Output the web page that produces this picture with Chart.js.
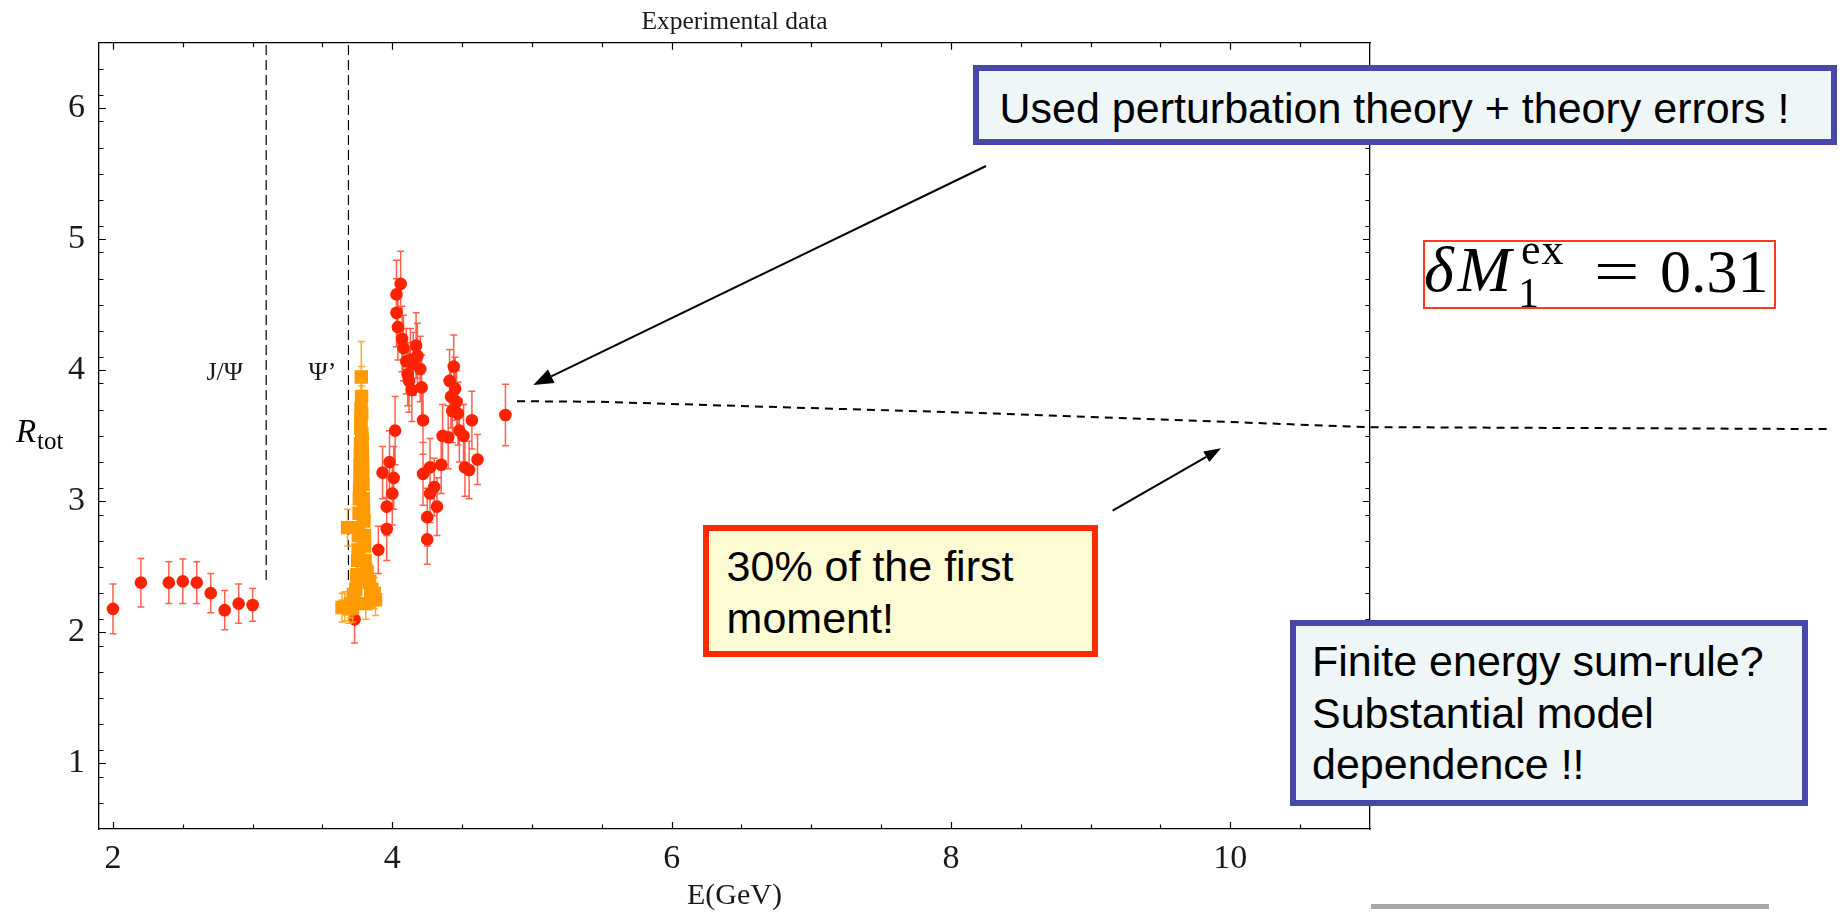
<!DOCTYPE html>
<html>
<head>
<meta charset="utf-8">
<title>R ratio – experimental data</title>
<script src="https://cdn.jsdelivr.net/npm/chart.js@4.4.1/dist/chart.umd.min.js"></script>
<style>
  body { margin: 0; background: #fff; }
  #wrap { position: relative; width: 1840px; height: 913px; overflow: hidden; }
  #chart { position: absolute; left: 0; top: 0; }
  .note {
    position: absolute; box-sizing: border-box;
    border: 6px solid #4848a8; background: #eef6f8;
    font-family: "Liberation Sans", Arial, sans-serif;
    font-size: 43px; line-height: 51.6px; color: #000; white-space: nowrap;
  }
  #note1 { left: 973px; top: 65px; width: 864px; height: 80px; padding: 11.6px 0 0 20.5px; }
  #note2 { left: 703px; top: 525px; width: 395px; height: 132px; padding: 10px 0 0 17.6px;
           border-color: #ff2a00; background: #fdfbd4; }
  #note3 { left: 1290px; top: 620px; width: 518px; height: 186px; padding: 10px 0 0 16px; }
  #mbox { position: absolute; box-sizing: border-box; left: 1423px; top: 240px; width: 353px; height: 69px;
          border: 2px solid #ff3a1a; }
  .tx { position: absolute; font-family: "Liberation Serif", "Times New Roman", serif; line-height: 1; color: #000; white-space: nowrap; }
  .big { font-size: 62px; top: 239.8px; }
  #ylab { font-size: 33px; font-style: italic; left: 16px; top: 415.4px; }
  #ysub { font-size: 25px; left: 37px; top: 428px; }
  #arrows { position: absolute; left: 0; top: 0; }
  #bar { position: absolute; left: 1371px; top: 904px; width: 398px; height: 5px; background: #a8a8a8; }
</style>
</head>
<body>
<div id="wrap">
  <canvas id="chart" width="1840" height="913"></canvas>

  <span class="tx" id="ylab">R</span><span class="tx" id="ysub">tot</span>

  <div class="note" id="note1">Used perturbation theory + theory errors !</div>
  <div class="note" id="note2">30% of the first<br>moment!</div>
  <div class="note" id="note3">Finite energy sum-rule?<br>Substantial model<br>dependence !!</div>

  <div id="mbox"></div>
  <span class="tx" style="left:1424px;top:238.1px;font-size:64px;font-style:italic;letter-spacing:4px">δM</span>
  <span class="tx" style="left:1521px;top:228px;font-size:44px;letter-spacing:1px">ex</span>
  <span class="tx" style="left:1518px;top:271.5px;font-size:42px">1</span>
  <span class="tx big" style="left:1594px;transform:scaleX(1.3);transform-origin:left">=</span>
  <span class="tx big" style="left:1660px">0.31</span>

  <svg id="arrows" width="1840" height="913">
    <line x1="986" y1="166" x2="551.3" y2="376.3" stroke="#000" stroke-width="2"/>
    <polygon points="533.3,385 554.6,383.1 548,369.6" fill="#000"/>
    <line x1="1112.6" y1="510.7" x2="1206.3" y2="456.8" stroke="#000" stroke-width="2"/>
    <polygon points="1221,448.3 1209.3,462 1203.3,451.6" fill="#000"/>
  </svg>

  <div id="bar"></div>
</div>

<script>
// R measurements, circles (energy in GeV, ratio, error)
const redE = [2.00, 2.20, 2.40, 2.50, 2.60, 2.70, 2.80, 2.90, 3.00,
              3.73, 3.90, 3.93, 3.96, 3.96, 3.98, 4.00, 4.01, 4.02, 4.03, 4.03,
              4.04, 4.06, 4.07, 4.08, 4.10, 4.11, 4.12, 4.13, 4.14, 4.15,
              4.17, 4.18, 4.20, 4.21, 4.22, 4.22, 4.25, 4.25, 4.27, 4.27,
              4.30, 4.32, 4.35, 4.36, 4.40, 4.41, 4.42, 4.43, 4.44, 4.45,
              4.46, 4.47, 4.48, 4.51, 4.52, 4.55, 4.57, 4.61, 4.81];
const redR = [2.18, 2.38, 2.38, 2.39, 2.38, 2.30, 2.17, 2.22, 2.21,
              2.10, 2.63, 3.22, 2.96, 2.79, 3.30, 3.06, 3.18, 3.54, 4.58, 4.44,
              4.33, 4.66, 4.24, 4.17, 4.07, 3.97, 3.92, 4.08, 3.85, 4.05,
              4.19, 4.11, 4.01, 3.87, 3.62, 3.21, 2.88, 2.71, 3.26, 3.06,
              3.11, 2.96, 3.28, 3.50, 3.49, 3.92, 3.80, 3.69, 4.03, 3.86,
              3.76, 3.67, 3.54, 3.50, 3.26, 3.24, 3.62, 3.32, 3.66];
const redErr = [0.19, 0.185, 0.16, 0.17, 0.16, 0.15, 0.15, 0.15, 0.125,
                0.18, 0.18, 0.20, 0.22, 0.24, 0.24, 0.24, 0.24, 0.26, 0.26, 0.26,
                0.25, 0.25, 0.25, 0.25, 0.25, 0.24, 0.24, 0.24, 0.24, 0.24,
                0.25, 0.25, 0.25, 0.25, 0.26, 0.24, 0.22, 0.19, 0.22, 0.22,
                0.22, 0.22, 0.22, 0.24, 0.24, 0.24, 0.24, 0.24, 0.24, 0.24,
                0.24, 0.24, 0.24, 0.24, 0.22, 0.22, 0.22, 0.19, 0.235];

// scan around the psi(3770), squares
const orangeE = [3.640, 3.660, 3.680, 3.690, 3.700, 3.715, 3.722, 3.730, 3.738, 3.745,
                 3.750, 3.752, 3.755, 3.757, 3.760, 3.762, 3.764, 3.766, 3.768, 3.769,
                 3.771, 3.772, 3.774, 3.775, 3.776, 3.778, 3.780, 3.781, 3.782, 3.784,
                 3.785, 3.787, 3.788, 3.790, 3.792, 3.794, 3.797, 3.800, 3.802, 3.805,
                 3.810, 3.820, 3.838, 3.845, 3.852, 3.870, 3.880];
const orangeR = [2.19, 2.20, 2.80, 2.18, 2.22, 2.19, 2.29, 2.26, 2.33, 2.44,
                 2.41, 2.55, 2.63, 2.74, 2.80, 2.91, 3.02, 3.09, 3.18, 3.27,
                 3.35, 3.44, 3.56, 3.63, 3.71, 3.95, 3.80, 3.67, 3.52, 3.47,
                 3.38, 3.29, 3.21, 3.13, 3.02, 2.93, 2.85, 2.74, 2.66, 2.55,
                 2.22, 2.46, 2.39, 2.31, 2.33, 2.30, 2.25];
const orangeErr = [0.11, 0.11, 0.14, 0.11, 0.11, 0.11, 0.12, 0.12, 0.12, 0.13,
                   0.13, 0.14, 0.14, 0.15, 0.15, 0.16, 0.16, 0.17, 0.17, 0.18,
                   0.18, 0.19, 0.20, 0.20, 0.21, 0.27, 0.23, 0.21, 0.20, 0.20,
                   0.19, 0.19, 0.18, 0.18, 0.17, 0.17, 0.16, 0.15, 0.15, 0.14,
                   0.12, 0.13, 0.13, 0.12, 0.12, 0.12, 0.12];

// resonance markers
const resonanceE = [3.097, 3.686];
const resonanceFloor = 2.4;
const resonanceNames = ['J/Ψ', 'Ψ’'];
const resonanceLabelE = [2.80, 3.50];
const resonanceLabelR = 3.925;

// perturbative curve, continued past the frame
const theoryE = [4.893, 5.487, 8.315, 10.993, 14.29];
const theoryR = [3.765, 3.760, 3.671, 3.567, 3.552];

// axes
const xRange = [1.9, 11];
const yRange = [0.5, 6.5];
const xMajor = [2, 4, 6, 8, 10];
const yMajor = [1, 2, 3, 4, 5, 6];

const xMinor = [];
for (let v = 2.5; v < 11; v += 0.5) if (!xMajor.includes(v)) xMinor.push(v);
const yMinor = [];
for (let k = 1; k < 30; k++) {
  const v = Math.round((0.5 + k * 0.2) * 10) / 10;
  if (!yMajor.includes(v) && v < 6.5) yMinor.push(v);
}

const RED = '#ff2200';
const ORANGE = '#ff9a00';
const SERIF = '"Liberation Serif", "Times New Roman", serif';

const zip = (xs, ys) => xs.map((x, i) => ({x: x, y: ys[i]}));

// vertical error bars drawn just before each dataset's own points
const errorBars = {
  id: 'errorBars',
  beforeDatasetDraw(chart, args) {
    const ds = chart.data.datasets[args.index];
    if (!ds.errors) return;
    const {ctx, scales: {x, y}} = chart;
    ctx.save();
    ctx.strokeStyle = ds.errorColor;
    ctx.lineWidth = 1.5;
    ctx.beginPath();
    ds.data.forEach((p, i) => {
      const px = x.getPixelForValue(p.x);
      const top = y.getPixelForValue(p.y + ds.errors[i]);
      const bot = y.getPixelForValue(p.y - ds.errors[i]);
      ctx.moveTo(px, top); ctx.lineTo(px, bot);
      ctx.moveTo(px - 3.5, top); ctx.lineTo(px + 3.5, top);
      ctx.moveTo(px - 3.5, bot); ctx.lineTo(px + 3.5, bot);
    });
    ctx.stroke();
    ctx.restore();
  }
};

// inward tick marks on all four sides of the frame, plus resonance labels
const frameTicks = {
  id: 'frameTicks',
  afterDatasetsDraw(chart) {
    const {ctx, chartArea: a, scales: {x, y}} = chart;
    ctx.save();
    ctx.strokeStyle = '#000';
    ctx.lineWidth = 1.2;
    ctx.beginPath();
    const xTick = (v, len) => {
      const px = Math.round(x.getPixelForValue(v)) + 0.5;
      ctx.moveTo(px, a.bottom); ctx.lineTo(px, a.bottom - len);
      ctx.moveTo(px, a.top); ctx.lineTo(px, a.top + len);
    };
    const yTick = (v, len) => {
      const py = Math.round(y.getPixelForValue(v)) + 0.5;
      ctx.moveTo(a.left, py); ctx.lineTo(a.left + len, py);
      ctx.moveTo(a.right, py); ctx.lineTo(a.right - len, py);
    };
    xMajor.forEach(v => xTick(v, 7));
    xMinor.forEach(v => xTick(v, 4.5));
    yMajor.forEach(v => yTick(v, 7));
    yMinor.forEach(v => yTick(v, 4.5));
    ctx.stroke();

    ctx.fillStyle = '#1a1a1a';
    ctx.font = '26px ' + SERIF;
    ctx.textAlign = 'center';
    ctx.textBaseline = 'alphabetic';
    resonanceNames.forEach((name, i) => {
      ctx.fillText(name, x.getPixelForValue(resonanceLabelE[i]), y.getPixelForValue(resonanceLabelR));
    });
    ctx.restore();
  }
};

const resonanceSets = resonanceE.map(e => ({
  type: 'line',
  data: [{x: e, y: resonanceFloor}, {x: e, y: yRange[1]}],
  borderColor: '#000',
  borderWidth: 1.2,
  borderDash: [10, 5],
  pointRadius: 0,
  order: 5
}));

const frameBorder = {color: '#000', width: 1.3};
const tickFont = {family: SERIF, size: 34};

new Chart(document.getElementById('chart'), {
  type: 'scatter',
  data: {
    datasets: [
      {
        label: 'R',
        data: zip(orangeE, orangeR),
        errors: orangeErr,
        errorColor: 'rgba(255,160,20,0.9)',
        pointStyle: 'rect',
        pointRadius: 9.5,
        backgroundColor: ORANGE,
        borderWidth: 0,
        order: 1
      },
      {
        label: 'R',
        data: zip(redE, redR),
        errors: redErr,
        errorColor: 'rgba(255,70,45,0.85)',
        pointRadius: 6.3,
        backgroundColor: RED,
        borderWidth: 0,
        order: 2
      },
      ...resonanceSets,
      {
        type: 'line',
        data: zip(theoryE, theoryR),
        borderColor: '#000',
        borderWidth: 2,
        borderDash: [8, 6],
        pointRadius: 0,
        clip: false,
        order: 0
      }
    ]
  },
  options: {
    responsive: false,
    animation: false,
    devicePixelRatio: 1,
    events: [],
    layout: {padding: {left: 0, right: 470, top: 0, bottom: 0}},
    plugins: {
      legend: {display: false},
      tooltip: {enabled: false},
      title: {
        display: true,
        text: 'Experimental data',
        fullSize: false,
        color: '#1a1a1a',
        font: {family: SERIF, size: 25.5, weight: 'normal'},
        padding: {top: 7, bottom: 5.2}
      }
    },
    scales: {
      x: {
        type: 'linear', position: 'bottom', min: xRange[0], max: xRange[1],
        afterFit: s => { s.height = 84; },
        afterBuildTicks: s => { s.ticks = xMajor.map(v => ({value: v})); },
        grid: {display: false},
        border: frameBorder,
        ticks: {autoSkip: false, maxRotation: 0,
                padding: 2, font: tickFont, color: '#1a1a1a'},
        title: {display: true, text: 'E(GeV)', color: '#1a1a1a',
                font: {family: SERIF, size: 30}, padding: {top: 0, bottom: -1}}
      },
      x2: {
        type: 'linear', position: 'top', min: xRange[0], max: xRange[1],
        afterFit: s => { s.height = 0; },
        grid: {display: false},
        border: frameBorder,
        ticks: {display: false}
      },
      y: {
        type: 'linear', position: 'left', min: yRange[0], max: yRange[1],
        afterFit: s => { s.width = 99; },
        afterBuildTicks: s => { s.ticks = yMajor.map(v => ({value: v})); },
        grid: {display: false},
        border: frameBorder,
        ticks: {autoSkip: false, padding: 6, font: tickFont, color: '#1a1a1a'}
      },
      y2: {
        type: 'linear', position: 'right', min: yRange[0], max: yRange[1],
        afterFit: s => { s.width = 0; },
        grid: {display: false},
        border: frameBorder,
        ticks: {display: false}
      }
    }
  },
  plugins: [errorBars, frameTicks]
});
</script>
</body>
</html>
